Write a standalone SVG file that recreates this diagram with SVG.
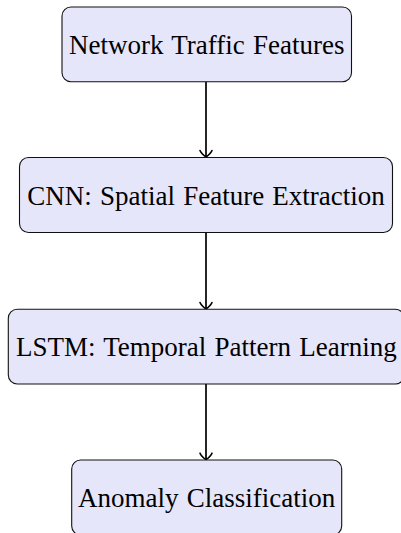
<svg xmlns="http://www.w3.org/2000/svg" width="401" height="533" viewBox="0 0 401 533">
<defs>
<style>
.box{fill:#e6e6fa;stroke:#111;stroke-width:1.1}
.lbl{font-family:"Liberation Serif","Times New Roman",serif;font-size:27px;fill:#000;text-anchor:middle;word-spacing:1.5px}
.conn{stroke:#000;stroke-width:1.7;fill:none}
</style>
<marker id="to" markerUnits="userSpaceOnUse" markerWidth="16" markerHeight="16" viewBox="-8 -8 16 16" refX="0" refY="0" orient="auto-start-reverse">
<path d="M-6.5,-6 C-3.8,-5 -1.5,-2 0,0 C-1.5,2 -3.8,5 -6.5,6" fill="none" stroke="#000" stroke-width="1.6" stroke-linecap="round"/>
</marker>
</defs>
<g id="connectors">
<path class="conn" d="M206,81.7 V157" marker-end="url(#to)"/>
<path class="conn" d="M206,232.7 V309" marker-end="url(#to)"/>
<path class="conn" d="M206,384 V459.7" marker-end="url(#to)"/>
</g>
<g id="n1">
<rect class="box" x="62" y="7" width="289.5" height="74.7" rx="9"/>
<text class="lbl" x="206.7" y="53.5">Network Traffic Features</text>
</g>
<g id="n2">
<rect class="box" x="19.5" y="157.5" width="373" height="75" rx="9"/>
<text class="lbl" x="206" y="204.5">CNN: Spatial Feature Extraction</text>
</g>
<g id="n3">
<rect class="box" x="8.3" y="309.3" width="396" height="74.7" rx="9"/>
<text class="lbl" x="206.3" y="356">LSTM: Temporal Pattern Learning</text>
</g>
<g id="n4">
<rect class="box" x="71.7" y="460" width="270" height="75" rx="9"/>
<text class="lbl" x="206.7" y="507">Anomaly Classification</text>
</g>
</svg>
